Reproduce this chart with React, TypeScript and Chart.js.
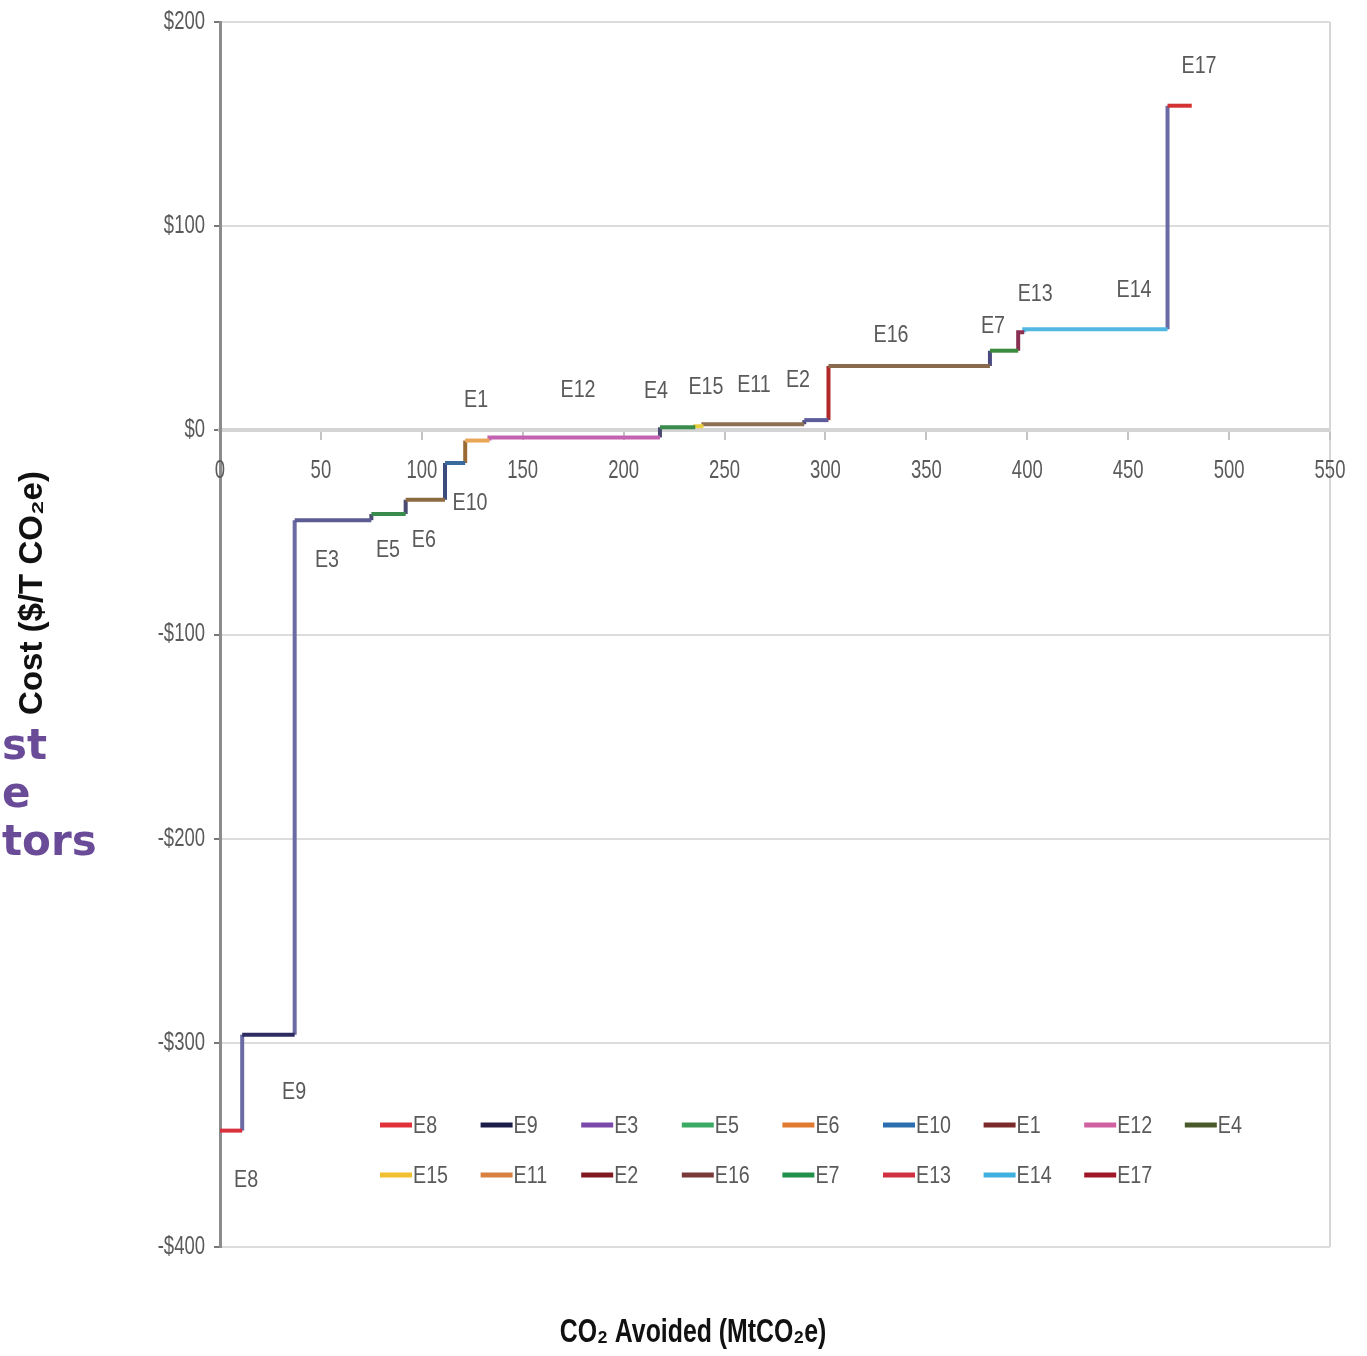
import React, { useEffect, useRef } from 'react';
import { Chart, registerables } from 'chart.js';

Chart.register(...registerables);

// ---- Data ----
const categories = ['E8', 'E9', 'E3', 'E5', 'E6', 'E10', 'E1', 'E12', 'E4', 'E15', 'E11', 'E2', 'E16', 'E7', 'E13', 'E14', 'E17'];
// abatement volume of each measure (MtCO2e) – width of each step
const abatement = [11, 26, 38, 17, 19.5, 10, 12, 84.5, 17.5, 4, 50, 12, 80, 14, 3, 71, 12];
// marginal cost of each measure ($/t CO2e)
const costs = [-343, -296, -44, -41, -34, -16, -5, -3.5, 1.5, 2, 3, 5, 31.5, 39, 48, 49.5, 159];
// anchor of each step's text label (data units)
const labelX = [12.9, 36.7, 53, 83.2, 101, 123.9, 126.9, 177.4, 216, 240.8, 264.6, 286.4, 332.5, 383, 403.9, 452.9, 485.1];
const labelY = [-367.6, -324.5, -63.7, -58.8, -53.9, -35.8, 14.7, 19.6, 19.1, 21, 22, 24.5, 46.6, 51, 66.7, 68.6, 178.4];

const xMin = 0;
const xMax = 550;
const xStep = 50;
const yMin = -400;
const yMax = 200;
const yStep = 100;

const yTitle = 'Cost ($/T CO\u2082e)';
const xTitle = 'CO\u2082 Avoided (MtCO\u2082e)';
const sideText = ['st', 'e', 'tors'];

// ---- Styles ----
const lineColors = ['#d8303c', '#2c2c60', '#5c5c92', '#3a8c4c', '#8c6a42', '#3a6a9c', '#e8a656', '#c462b2', '#3a8c4c', '#ead040', '#8c7052', '#5c5c9a', '#8a6a4c', '#3a8c3c', '#8a3052', '#52b8e2', '#d43232'];
const riseColors = ['#d8303c', '#6a6aa4', '#6a6aa4', '#4a4a72', '#4a4a72', '#3c4c7c', '#9a6a34', '#c462b2', '#4a4a72', '#ead040', '#8c7052', '#4a4a80', '#b02828', '#4a4a80', '#8a3052', '#52b8e2', '#6a6aa4'];
const legendColors = ['#e0303a', '#1c1c48', '#7a48a8', '#3aaa64', '#e07a30', '#2a6eb0', '#7a2a2a', '#d060a0', '#4a5a2a', '#f0c030', '#d88040', '#801820', '#7a3838', '#20904a', '#d03040', '#40b0e0', '#a01828'];

const BASE_FONT = "'Liberation Sans', Arial, sans-serif";
const GREY_TEXT = '#5a5a5a';
const TICK_FONT = `25px ${BASE_FONT}`;
const TICK_SX = 0.74;
const LABEL_FONT = `24px ${BASE_FONT}`;
const LABEL_SX = 0.82;

const formatCost = (v: number) => (v < 0 ? `-$${Math.abs(v)}` : `$${v}`);

function narrowText(ctx: CanvasRenderingContext2D, text: string, x: number, y: number, align: CanvasTextAlign, sx: number) {
  ctx.save();
  ctx.translate(x, y);
  ctx.scale(sx, 1);
  ctx.textAlign = align;
  ctx.fillText(text, 0, 0);
  ctx.restore();
}

function buildDatasets() {
  let start = 0;
  return categories.map((name, i) => {
    const end = start + abatement[i];
    const pts: { x: number; y: number }[] = [];
    if (i > 0) pts.push({ x: start, y: costs[i - 1] });
    pts.push({ x: start, y: costs[i] });
    pts.push({ x: end, y: costs[i] });
    start = end;
    const hasRise = i > 0;
    return {
      label: name,
      data: pts,
      borderColor: lineColors[i],
      borderWidth: 4,
      pointRadius: 0,
      fill: false,
      tension: 0,
      borderCapStyle: 'butt' as const,
      borderJoinStyle: 'miter' as const,
      segment: {
        borderColor: (ctx: any) => (hasRise && ctx.p0DataIndex === 0 ? riseColors[i] : lineColors[i]),
      },
    };
  });
}

const narrowTicksPlugin = {
  id: 'narrowTicks',
  afterDraw(chart: any) {
    const { ctx, scales } = chart;
    const xs = scales.x;
    const ys = scales.y;
    ctx.save();
    ctx.font = TICK_FONT;
    ctx.fillStyle = GREY_TEXT;
    ctx.textBaseline = 'middle';
    ys.ticks.forEach((t: any) => {
      narrowText(ctx, formatCost(t.value), ys.right - 15, ys.getPixelForValue(t.value), 'right', TICK_SX);
    });
    ctx.textBaseline = 'top';
    const y0 = ys.getPixelForValue(0);
    xs.ticks.forEach((t: any) => {
      narrowText(ctx, String(t.value), xs.getPixelForValue(t.value), y0 + 28, 'center', TICK_SX);
    });
    ctx.restore();
  },
};

const stepLabelsPlugin = {
  id: 'stepLabels',
  afterDatasetsDraw(chart: any) {
    const { ctx, scales } = chart;
    ctx.save();
    ctx.font = LABEL_FONT;
    ctx.fillStyle = GREY_TEXT;
    ctx.textBaseline = 'middle';
    categories.forEach((name, i) => {
      narrowText(ctx, name, scales.x.getPixelForValue(labelX[i]), scales.y.getPixelForValue(labelY[i]), 'center', LABEL_SX);
    });
    ctx.restore();
  },
};

const customLegendPlugin = {
  id: 'customLegend',
  afterDraw(chart: any) {
    const { ctx } = chart;
    ctx.save();
    ctx.font = LABEL_FONT;
    ctx.textBaseline = 'middle';
    categories.forEach((name, i) => {
      const col = i % 9;
      const row = Math.floor(i / 9);
      const x = 380 + col * 100.6;
      const y = 1125 + row * 50;
      ctx.strokeStyle = legendColors[i];
      ctx.lineWidth = 5;
      ctx.beginPath();
      ctx.moveTo(x, y);
      ctx.lineTo(x + 32, y);
      ctx.stroke();
      ctx.fillStyle = GREY_TEXT;
      narrowText(ctx, name, x + 33, y + 1, 'left', LABEL_SX);
    });
    ctx.restore();
  },
};

const axisTitlesPlugin = {
  id: 'axisTitles',
  afterDraw(chart: any) {
    const { ctx } = chart;
    ctx.save();
    ctx.fillStyle = '#111';
    ctx.textAlign = 'center';
    ctx.textBaseline = 'middle';
    ctx.font = `bold 33px ${BASE_FONT}`;
    ctx.translate(33, 593);
    ctx.rotate(-Math.PI / 2);
    ctx.fillText(yTitle, 0, 0);
    ctx.restore();

    ctx.save();
    ctx.fillStyle = '#111';
    ctx.textBaseline = 'middle';
    ctx.font = `bold 34px ${BASE_FONT}`;
    narrowText(ctx, xTitle, 693, 1333, 'center', 0.73);
    ctx.restore();
  },
};

export default function App() {
  const canvasRef = useRef<HTMLCanvasElement | null>(null);

  useEffect(() => {
    if (!canvasRef.current) return;
    const chart = new Chart(canvasRef.current, {
      type: 'line',
      data: { datasets: buildDatasets() as any },
      options: {
        animation: false,
        responsive: false,
        devicePixelRatio: 1,
        layout: { padding: { top: 22, right: 37, bottom: 109, left: 0 } },
        plugins: {
          legend: { display: false },
          tooltip: { enabled: false },
        },
        scales: {
          x: {
            type: 'linear',
            position: { y: 0 } as any,
            min: xMin,
            max: xMax,
            ticks: {
              stepSize: xStep,
              autoSkip: false,
              maxRotation: 0,
              padding: 18,
              color: 'rgba(0,0,0,0)',
              font: { family: BASE_FONT, size: 18 },
            },
            grid: {
              drawOnChartArea: true,
              color: (ctx: any) => (ctx.tick && ctx.tick.value === xMax ? '#d6d6d6' : 'rgba(0,0,0,0)'),
              lineWidth: 2,
              tickLength: 8,
              tickColor: '#c4c4c4',
              tickWidth: 2,
            },
            border: { color: '#d4d4d4', width: 4 },
          },
          y: {
            type: 'linear',
            position: 'left',
            min: yMin,
            max: yMax,
            ticks: {
              stepSize: yStep,
              padding: 9,
              color: 'rgba(0,0,0,0)',
              font: { family: BASE_FONT, size: 18 },
              callback: (v: any) => formatCost(Number(v)),
            },
            grid: {
              color: '#dcdcdc',
              lineWidth: 2,
              tickLength: 6,
              tickColor: '#777',
              tickWidth: 2,
            },
            border: { color: '#8c8c8c', width: 3 },
            afterFit: (scale: any) => {
              scale.width = 220;
            },
          },
        },
      },
      plugins: [narrowTicksPlugin, stepLabelsPlugin, customLegendPlugin, axisTitlesPlugin],
    });
    return () => chart.destroy();
  }, []);

  return (
    <div style={{ position: 'absolute', left: 0, top: 0, width: 1367, height: 1356, background: '#fff', overflow: 'hidden' }}>
      <canvas ref={canvasRef} width={1367} height={1356} style={{ display: 'block', width: 1367, height: 1356 }} />
      <div
        style={{
          position: 'absolute',
          left: 2,
          top: 721,
          fontFamily: "'DejaVu Sans', sans-serif",
          fontWeight: 'bold',
          fontSize: 42,
          lineHeight: '48px',
          color: '#6a4b98',
          whiteSpace: 'pre',
        }}
      >
        {sideText.map((t, i) => (
          <div key={i}>{t}</div>
        ))}
      </div>
    </div>
  );
}
